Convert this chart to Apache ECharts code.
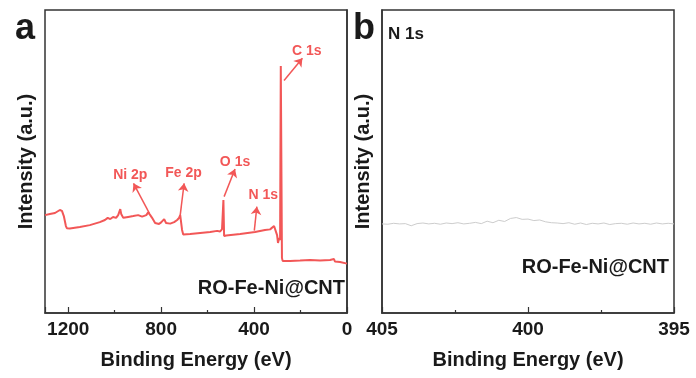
<!DOCTYPE html>
<html>
<head>
<meta charset="utf-8">
<script src="https://cdn.jsdelivr.net/npm/echarts@6/dist/echarts.min.js"></script>
<style>
html,body{margin:0;padding:0;background:#fff;}
#chart{width:696px;height:378px;}
</style>
</head>
<body>
<div id="chart"></div>
<script>
// ---- Data (panel a: XPS survey) ----
const surveyEnergy = [1300,1279,1257,1236,1227,1219,1210,1206,1193,1150,1107,1064,1042,1030,1019,1007,994,985,976,972,963,942,920,899,882,864,856,847,839,826,809,800,787,779,761,744,731,723,718,714,710,705,675,632,589,559,546,538,532,529,520,460,396,353,331,314,307,301,297,292,288,285,280,277,245,202,159,116,73,56,52,30,0];
const surveyIntensity = [32.3,32.7,33.0,34.0,33.7,32.0,28.7,28.0,27.9,28.4,29.0,30.0,30.7,31.4,31.0,31.7,31.4,32.3,34.3,32.7,31.4,31.7,32.0,32.3,31.8,32.3,33.2,32.3,31.4,29.7,29.4,29.9,31.0,29.7,29.5,30.0,30.7,31.4,32.3,32.5,27.4,25.9,26.1,26.4,26.7,27.1,26.9,27.7,37.3,25.4,25.6,26.1,26.7,27.4,27.6,28.7,29.2,25.7,23.1,24.8,24.1,81.5,18.2,17.2,17.2,17.3,17.5,17.3,17.5,17.8,17.0,16.8,16.3];

// peak annotations: label, label position [eV, I], arrow tail [eV, I], arrow head [eV, I]
const peakNames = ['C 1s','O 1s','N 1s','Ni 2p','Fe 2p'];
const peakLabelPos = [[173,86.5],[482,49.9],[360,38.8],[933,45.6],[704,46.0]];
const arrowTail = [[271,76.7],[529,38.4],[399,27.2],[850,32.8],[718,32.3]];
const arrowHead = [[192,84.1],[482,47.5],[388,35.1],[919,42.8],[701,42.8]];

// ---- Data (panel b: N 1s high resolution) ----
const n1sEnergy = [405.0,404.8,404.6,404.4,404.2,404.0,403.8,403.6,403.4,403.2,403.0,402.8,402.6,402.4,402.2,402.0,401.8,401.6,401.4,401.2,401.0,400.8,400.6,400.4,400.2,400.0,399.8,399.6,399.4,399.2,399.0,398.8,398.6,398.4,398.2,398.0,397.8,397.6,397.4,397.2,397.0,396.8,396.6,396.4,396.2,396.0,395.8,395.6,395.4,395.2,395.0];
const n1sIntensity = [29.4,29.3,29.6,29.4,29.5,28.8,29.5,29.7,29.4,29.6,29.3,29.7,29.5,29.8,29.4,29.6,29.9,29.5,30.3,29.8,30.6,30.2,31.2,31.5,30.9,31.0,30.5,30.7,30.1,29.8,29.7,29.5,29.8,29.3,29.7,29.2,29.6,29.4,29.7,29.2,29.5,29.6,29.3,29.7,29.4,29.6,29.3,29.7,29.4,29.6,29.4];

// ticks
const surveyTicks = {min:0, max:1300, interval:400, labels:[0,400,800,1200]};
const n1sTicks = {min:395, max:405, interval:5, labels:[395,400,405]};
const sampleName = 'RO-Fe-Ni@CNT';

const RED = '#f25757';
const INK = '#1a1a1a';
const FONT = '"Liberation Sans", Arial, sans-serif';

const chart = echarts.init(document.getElementById('chart'), null, {renderer:'canvas'});

function xAxisCfg(gridIndex, t){
  return {
    type:'value', gridIndex, min:t.min, max:t.max, interval:t.interval, inverse:true,
    name:'Binding Energy (eV)', nameLocation:'middle', nameGap:37,
    nameTextStyle:{fontFamily:FONT, fontWeight:'bold', fontSize:20, color:INK},
    axisLine:{show:true, onZero:false, lineStyle:{color:'#333', width:1.5}},
    axisTick:{show:true, inside:true, length:6, lineStyle:{color:'#333', width:1.2}},
    minorTick:{show:true, splitNumber:2, length:3, lineStyle:{color:'#333', width:1.2}},
    axisLabel:{show:true, margin:7, fontFamily:FONT, fontWeight:'bold', fontSize:19, color:INK,
      showMaxLabel:true, showMinLabel:true,
      formatter:v=> t.labels.indexOf(Math.round(v*1000)/1000) >= 0 ? String(v) : ''},
    splitLine:{show:false}, minorSplitLine:{show:false}
  };
}
function yAxisCfg(gridIndex){
  return {
    type:'value', gridIndex, min:0, max:100,
    name:'Intensity (a.u.)', nameLocation:'middle', nameGap:9,
    nameTextStyle:{fontFamily:FONT, fontWeight:'bold', fontSize:20, color:INK},
    axisLine:{show:true, lineStyle:{color:'#333', width:1.5}},
    axisTick:{show:false}, axisLabel:{show:false}, splitLine:{show:false}
  };
}

const arrowData = arrowTail.map((s,i)=>[{coord:s, symbol:'none'},{coord:arrowHead[i], symbol:'arrow', symbolSize:8}]);
const labelData = peakNames.map((n,i)=>({name:n, coord:peakLabelPos[i]}));

const option = {
  animation:false,
  backgroundColor:'#fff',
  grid:[
    {left:45, right:349, top:10, bottom:65, show:true, borderColor:'#333', borderWidth:1.5, backgroundColor:'transparent'},
    {left:382, right:22, top:10, bottom:65, show:true, borderColor:'#333', borderWidth:1.5, backgroundColor:'transparent'}
  ],
  xAxis:[xAxisCfg(0, surveyTicks), xAxisCfg(1, n1sTicks)],
  yAxis:[yAxisCfg(0), yAxisCfg(1)],
  title:[
    {text:'a', left:15, top:11, padding:0, textStyle:{fontFamily:FONT, fontWeight:'bold', fontSize:36, lineHeight:36, color:INK}},
    {text:'b', left:353, top:11, padding:0, textStyle:{fontFamily:FONT, fontWeight:'bold', fontSize:36, lineHeight:36, color:INK}},
    {text:'N 1s', left:388, top:26, padding:0, textStyle:{fontFamily:FONT, fontWeight:'bold', fontSize:17, lineHeight:17, color:INK}},
    {text:sampleName, right:351, top:278, padding:0, textStyle:{fontFamily:FONT, fontWeight:'bold', fontSize:20, lineHeight:20, color:INK}},
    {text:sampleName, right:27, top:257, padding:0, textStyle:{fontFamily:FONT, fontWeight:'bold', fontSize:20, lineHeight:20, color:INK}}
  ],
  series:[
    {
      type:'line', xAxisIndex:0, yAxisIndex:0, showSymbol:false, symbol:'none', sampling:null,
      data: surveyEnergy.map((e,i)=>[e, surveyIntensity[i]]),
      lineStyle:{color:RED, width:2}, itemStyle:{color:RED},
      markLine:{
        silent:true, symbol:['none','arrow'], symbolSize:8, precision:2,
        lineStyle:{color:RED, width:1.5, type:'solid'}, label:{show:false},
        data: arrowData
      },
      markPoint:{
        silent:true, symbol:'circle', symbolSize:0,
        label:{show:true, position:'inside', formatter:'{b}', fontFamily:FONT, fontWeight:'bold', fontSize:14, color:RED},
        data: labelData
      }
    },
    {
      type:'line', xAxisIndex:1, yAxisIndex:1, showSymbol:false, symbol:'none',
      data: n1sEnergy.map((e,i)=>[e, n1sIntensity[i]]),
      lineStyle:{color:'#cdcdcd', width:1}, itemStyle:{color:'#cdcdcd'}
    }
  ]
};
chart.setOption(option);
</script>
</body>
</html>
